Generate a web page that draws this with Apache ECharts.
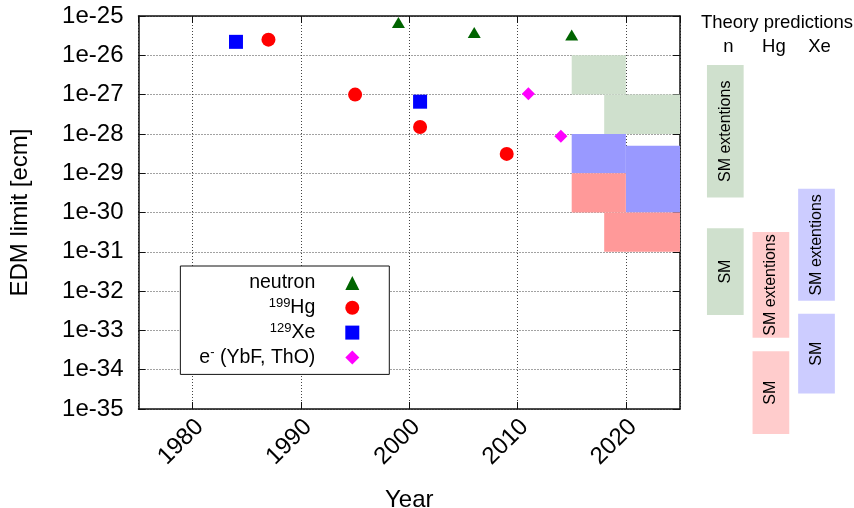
<!DOCTYPE html>
<html>
<head>
<meta charset="utf-8">
<script src="https://cdn.jsdelivr.net/npm/echarts@6/dist/echarts.min.js"></script>
<style>
  html, body { margin: 0; padding: 0; background: #fff; }
  #chart { width: 854px; height: 508px; }
</style>
</head>
<body>
<div id="chart"></div>
<script>
// Measured EDM upper limits: [year, limit in e·cm]
const neutronLimits = [[1999, 6.8e-26], [2006, 3.8e-26], [2015, 3.3e-26]];
const mercuryLimits = [[1987, 2.5e-26], [1995, 1.0e-27], [2001, 1.5e-28], [2009, 3.1e-29]];
const xenonLimits = [[1984, 2.2e-26], [2001, 6.6e-28]];
const electronLimits = [[2011, 1.05e-27], [2014, 8.7e-29]];

// Projected sensitivity regions: [fromYear, toYear, lower, upper] in e·cm
const neutronGoals = [[2015, 2020, 1e-27, 1e-26], [2018, 2025, 1e-28, 1e-27]];
const xenonGoals = [[2015, 2020, 1e-29, 1e-28], [2020, 2025, 1e-30, 5e-29]];
const mercuryGoals = [[2015, 2020, 1e-30, 1e-29], [2018, 2025, 1e-31, 1e-30]];

// Vertical axis: decades of e·cm, 1e-35 … 1e-25
const edmDecadeMin = -35;
const edmDecadeMax = -25;

// Theory prediction bands, in decades: [column, lowerExp, upperExp]
const theoryColumns = ['n', 'Hg', 'Xe'];
const theoryBands = [
  [0, -29.55, -26.18],
  [0, -32.54, -30.33],
  [1, -33.12, -30.43],
  [1, -35.57, -33.46],
  [2, -32.18, -29.33],
  [2, -34.54, -32.51]
];
const theoryBandText = ['SM extentions', 'SM', 'SM extentions', 'SM', 'SM extentions', 'SM'];
const theoryFill = ['#cfe0cd', '#ffcccc', '#ccccff'];

const legendText = {
  'neutron': 'neutron',
  '199Hg': '{sup|199}Hg',
  '129Xe': '{sup|129}Xe',
  'e- (YbF, ThO)': 'e{sup|-} (YbF, ThO)'
};

const FONT = '"Liberation Sans", Arial, Helvetica, sans-serif';
const INK = '#000';

// Limits are plotted on a decade (log10) scale
const toDecades = rows => rows.map(([year, d]) => [year, Math.log10(d)]);
const regionsToDecades = rows => rows.map(([a, b, lo, hi]) => [a, b, Math.log10(lo), Math.log10(hi)]);

const chart = echarts.init(document.getElementById('chart'), null, { renderer: 'canvas' });

function regionItem(color) {
  return function (params, api) {
    const p0 = api.coord([api.value(0), api.value(3)]);
    const p1 = api.coord([api.value(1), api.value(2)]);
    return {
      type: 'rect',
      shape: { x: p0[0], y: p0[1], width: p1[0] - p0[0], height: p1[1] - p0[1] },
      style: { fill: color }
    };
  };
}

function bandItem(params, api) {
  const col = api.value(0);
  const top = api.coord([col, api.value(2)]);
  const bottom = api.coord([col, api.value(1)]);
  const w = api.size([1, 0])[0] * 0.805;
  const cx = top[0];
  return {
    type: 'group',
    children: [
      {
        type: 'rect',
        shape: { x: cx - w / 2, y: top[1], width: w, height: bottom[1] - top[1] },
        style: { fill: theoryFill[col] }
      },
      {
        type: 'text',
        x: cx,
        y: (top[1] + bottom[1]) / 2,
        rotation: Math.PI / 2,
        style: {
          text: theoryBandText[params.dataIndex],
          fontSize: 16,
          fontFamily: FONT,
          fill: INK,
          align: 'center',
          verticalAlign: 'middle'
        }
      }
    ]
  };
}

const frameLine = () => ({ show: true, onZero: false, lineStyle: { color: '#111', width: 1.5 } });
const innerTick = () => ({ show: true, inside: true, length: 7, lineStyle: { color: '#111', width: 1 } });
const gridDots = () => ({ show: true, lineStyle: { color: '#444', width: 1, type: [1, 2] } });

const regionSeries = (name, data, color) => ({
  name: name,
  type: 'custom',
  xAxisIndex: 0,
  yAxisIndex: 0,
  renderItem: regionItem(color),
  encode: { x: [0, 1], y: [2, 3] },
  data: regionsToDecades(data),
  z: 1,
  silent: true
});

const pointSeries = (name, data, symbol, size, color) => ({
  name: name,
  type: 'scatter',
  xAxisIndex: 0,
  yAxisIndex: 0,
  symbol: symbol,
  symbolSize: size,
  itemStyle: { color: color, opacity: 1 },
  data: toDecades(data),
  z: 5
});

chart.setOption({
  animation: false,
  backgroundColor: '#fff',
  textStyle: { fontFamily: FONT },
  grid: [
    { left: 138.5, top: 16, width: 541.5, height: 393, containLabel: false, outerBoundsMode: 'none' },
    { left: 702.5, top: 58, width: 136.8, height: 393, containLabel: false, outerBoundsMode: 'none' }
  ],
  xAxis: [
    {
      type: 'value', gridIndex: 0, min: 1975, max: 2025, position: 'bottom',
      axisLine: frameLine(), axisTick: innerTick(), splitLine: gridDots(),
      axisLabel: {
        rotate: 45, fontSize: 24, color: INK, margin: 7, fontFamily: FONT,
        verticalAlign: 'top', lineHeight: 20,
        showMinLabel: false, showMaxLabel: false,
        formatter: v => (v % 10 === 0 ? String(v) : '')
      },
      name: 'Year', nameLocation: 'middle', nameGap: 79,
      nameTextStyle: { fontSize: 24, color: INK, fontFamily: FONT }
    },
    {
      type: 'value', gridIndex: 0, min: 1975, max: 2025, position: 'top',
      axisLine: frameLine(), axisTick: innerTick(), splitLine: { show: false },
      axisLabel: { show: false }
    },
    {
      type: 'category', gridIndex: 1, position: 'top', data: theoryColumns,
      boundaryGap: true,
      axisLine: { show: false }, axisTick: { show: false }, splitLine: { show: false },
      axisLabel: { fontSize: 18.5, color: INK, margin: 2, fontFamily: FONT, padding: [0, 0, 0, 6] }
    }
  ],
  yAxis: [
    {
      type: 'value', gridIndex: 0, min: edmDecadeMin, max: edmDecadeMax, interval: 1,
      position: 'left',
      axisLine: frameLine(), axisTick: innerTick(), splitLine: gridDots(),
      axisLabel: {
        fontSize: 24, color: INK, margin: 15, fontFamily: FONT,
        formatter: v => '1e' + v
      },
      name: 'EDM limit [ecm]', nameLocation: 'middle', nameGap: 106,
      nameTextStyle: { fontSize: 24, color: INK, fontFamily: FONT }
    },
    {
      type: 'value', gridIndex: 0, min: edmDecadeMin, max: edmDecadeMax, interval: 1,
      position: 'right',
      axisLine: frameLine(), axisTick: innerTick(), splitLine: { show: false },
      axisLabel: { show: false }
    },
    {
      type: 'value', gridIndex: 1, min: -36, max: -26, show: false
    }
  ],
  legend: {
    orient: 'vertical',
    right: 464.7,
    top: 266,
    align: 'right',
    padding: [6, 30, 6, 19],
    itemGap: 2.8,
    itemWidth: 14,
    itemHeight: 14,
    selectedMode: false,
    backgroundColor: '#fff',
    borderColor: '#111',
    borderWidth: 1,
    borderRadius: 0,
    data: ['neutron', '199Hg', '129Xe', 'e- (YbF, ThO)'],
    formatter: name => legendText[name] + '{gap|}',
    textStyle: {
      fontFamily: FONT, fontSize: 19.5, color: INK, lineHeight: 22,
      rich: {
        sup: { fontFamily: FONT, fontSize: 13, lineHeight: 12, verticalAlign: 'top', color: INK },
        gap: { width: 25, lineHeight: 22 }
      }
    }
  },
  graphic: [
    {
      type: 'text',
      x: 777,
      y: 23,
      style: {
        text: 'Theory predictions', fontSize: 18.5, fontFamily: FONT, fill: INK,
        align: 'center', verticalAlign: 'middle'
      }
    }
  ],
  series: [
    regionSeries('neutron goal', neutronGoals, '#cfe0cd'),
    regionSeries('Xe goal', xenonGoals, '#9999ff'),
    regionSeries('Hg goal', mercuryGoals, '#ff9999'),
    pointSeries('neutron', neutronLimits, 'triangle', [13, 11], '#006400'),
    pointSeries('199Hg', mercuryLimits, 'circle', 14, '#ff0000'),
    pointSeries('129Xe', xenonLimits, 'rect', 14, '#0000ff'),
    pointSeries('e- (YbF, ThO)', electronLimits, 'diamond', 13, '#ff00ff'),
    {
      name: 'theory',
      type: 'custom',
      xAxisIndex: 2,
      yAxisIndex: 2,
      renderItem: bandItem,
      encode: { x: 0, y: [1, 2] },
      data: theoryBands,
      silent: true
    }
  ]
});
</script>
</body>
</html>
